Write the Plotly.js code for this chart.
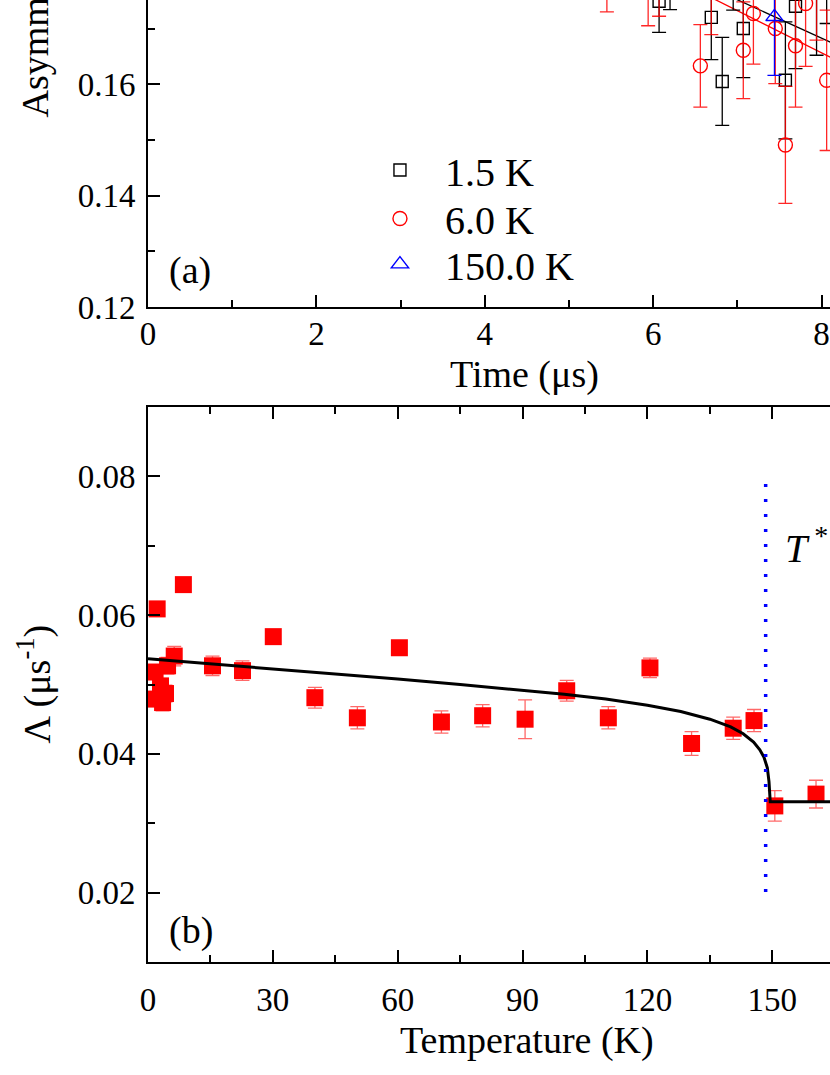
<!DOCTYPE html>
<html>
<head>
<meta charset="utf-8">
<script src="https://cdn.plot.ly/plotly-3.0.1.min.js"></script>
<style>
html, body { margin: 0; padding: 0; overflow: hidden; background: #fff; }
#chart { position: absolute; left: 0; top: -300px; width: 1040px; height: 1375px; }
</style>
</head>
<body>
<div id="chart"></div>
<script>
var FONT = "'Liberation Serif', 'Times New Roman', serif";

// panel (a): asymmetry vs time
var t15 = [6.07, 6.20, 6.69, 6.82, 6.95, 7.07, 7.57, 7.69, 7.94, 8.06];
var a15 = [0.1749, 0.1810, 0.1720, 0.1605, 0.1800, 0.1700, 0.1607, 0.1740, 0.1770, 0.1790];
var e15 = [0.0056, 0.0076, 0.0076, 0.0079, 0.0067, 0.0088, 0.0105, 0.0112, 0.0118, 0.0081];

var t60 = [5.45, 5.94, 6.07, 6.56, 6.69, 7.07, 7.19, 7.45, 7.57, 7.69, 7.81, 7.94, 8.06];
var a60 = [0.1830, 0.1790, 0.1800, 0.1633, 0.1770, 0.1661, 0.1727, 0.1700, 0.1491, 0.1669, 0.1745, 0.1790, 0.1607];
var e60 = [0.0100, 0.0085, 0.0078, 0.0074, 0.0081, 0.0087, 0.0091, 0.0099, 0.0105, 0.0110, 0.0113, 0.0111, 0.0126];

var t150 = [7.44];
var a150 = [0.1721];
var e150 = [0.0105];

var fit15T = [6.5, 7.01, 8.1, 10];
var fit15A = [0.1786, 0.1751, 0.1676, 0.1545];
var fit60T = [6.3, 6.75, 8.1, 10];
var fit60A = [0.1785, 0.1751, 0.1649, 0.1505];

// panel (b): relaxation rate vs temperature
var temps = [1.7, 1.8, 2.2, 3.0, 3.5, 4.2, 4.7, 6.3, 8.5, 15.5, 22.7, 30.1, 40.1, 50.3, 60.4,
             70.5, 80.4, 90.6, 100.6, 110.6, 120.6, 130.6, 140.6, 145.6, 150.6, 160.5];
var lambda = [0.0518, 0.0479, 0.0609, 0.0498, 0.0474, 0.0487, 0.0527, 0.0541, 0.0644, 0.0527, 0.0520, 0.0569, 0.0481, 0.0452, 0.0553,
              0.0446, 0.0455, 0.0450, 0.0491, 0.0452, 0.0524, 0.0415, 0.0437, 0.0448, 0.0325, 0.0342];
var lambdaErr = [0.0010, 0.0010, 0.0008, 0.0010, 0.0012, 0.0012, 0.0012, 0.0014, 0.0008, 0.0014, 0.0014, 0.0010, 0.0015, 0.0016, 0.0008,
                 0.0016, 0.0016, 0.0028, 0.0015, 0.0016, 0.0014, 0.0017, 0.0016, 0.0016, 0.0022, 0.0020];

var fitT = [0, 15, 30, 45, 60, 75, 90, 100, 110, 120, 128, 135, 140, 143, 145.5, 147, 148, 148.8, 149.2, 149.4, 149.5, 210];
var fitL = [0.0537, 0.0530, 0.0522, 0.0515, 0.0508, 0.0500, 0.0492, 0.0486, 0.0479, 0.0470, 0.0461, 0.0450, 0.0439, 0.0429,
            0.0417, 0.0406, 0.0395, 0.0380, 0.0360, 0.0340, 0.0331, 0.0331];

var tStar = 148.4;

function errs(arr, color) {
  return {type: 'data', array: arr, visible: true, color: color, thickness: 1.3, width: 7};
}

var traces = [
  {x: fit15T, y: fit15A, mode: 'lines', line: {color: 'black', width: 1.3}, showlegend: false, xaxis: 'x', yaxis: 'y'},
  {x: fit60T, y: fit60A, mode: 'lines', line: {color: 'red', width: 1.3}, showlegend: false, xaxis: 'x', yaxis: 'y'},
  {x: t15, y: a15, error_y: errs(e15, 'black'), mode: 'markers', name: '1.5 K', legend: 'legend',
   marker: {symbol: 'square-open', size: 12, color: 'black', line: {width: 1.4, color: 'black'}}, xaxis: 'x', yaxis: 'y'},
  {x: t60, y: a60, error_y: errs(e60, 'rgba(255,0,0,0.85)'), mode: 'markers', name: '6.0 K', legend: 'legend2',
   marker: {symbol: 'circle-open', size: 14, color: 'red', line: {width: 1.4, color: 'red'}}, xaxis: 'x', yaxis: 'y'},
  {x: t150, y: a150, error_y: errs(e150, 'blue'), mode: 'markers', name: '150.0 K', legend: 'legend3',
   marker: {symbol: 'triangle-up-open', size: 15, color: 'blue', line: {width: 1.4, color: 'blue'}}, xaxis: 'x', yaxis: 'y'},
  {x: temps, y: lambda, error_y: errs(lambdaErr, 'rgba(255,40,40,0.7)'), mode: 'markers', showlegend: false,
   marker: {symbol: 'square', size: 17, color: 'red'}, xaxis: 'x2', yaxis: 'y2'},
  {x: fitT, y: fitL, mode: 'lines', line: {color: 'black', width: 3}, showlegend: false, xaxis: 'x2', yaxis: 'y2'}
];

function axis(extra) {
  var base = {
    showline: true, linecolor: 'black', linewidth: 2, mirror: 'ticks',
    ticks: 'inside', ticklen: 12, tickwidth: 2, tickcolor: 'black',
    showgrid: false, zeroline: false, ticklabelstandoff: 4,
    tickfont: {family: FONT, size: 33, color: 'black'}
  };
  for (var k in extra) base[k] = extra[k];
  return base;
}

function minor(step) {
  return {ticks: 'inside', ticklen: 7, tickwidth: 2, tickcolor: 'black', dtick: step, showgrid: false};
}

var titleFont = {family: FONT, size: 38, color: 'black'};

function legendAt(y) {
  return {x: 0.2458, y: y, xanchor: 'left', yanchor: 'middle', bgcolor: 'rgba(0,0,0,0)',
          font: {family: FONT, size: 40, color: 'black'}, itemwidth: 80};
}

var layout = {
  width: 1040, height: 1375,
  margin: {l: 148, r: 50, t: 50, b: 113},
  paper_bgcolor: 'white', plot_bgcolor: 'white',
  font: {family: FONT, color: 'black'},
  xaxis: axis({domain: [0, 1], range: [0, 10], dtick: 2, tick0: 0, anchor: 'y', ticklabelstandoff: -4, minor: minor(1)}),
  yaxis: axis({domain: [0.5404, 1], range: [0.12, 0.22], dtick: 0.02, tick0: 0, tickformat: '.2f', anchor: 'x', minor: minor(0.01)}),
  xaxis2: axis({domain: [0, 1], range: [0, 202.3], dtick: 30, tick0: 0, anchor: 'y2', ticklabelstandoff: 7, minor: minor(15)}),
  yaxis2: axis({domain: [0, 0.4579], range: [0.01, 0.09], dtick: 0.02, tick0: 0, tickformat: '.2f', anchor: 'x2', minor: minor(0.01)}),
  showlegend: true,
  legend: legendAt(0.6535),
  legend2: legendAt(0.6135),
  legend3: legendAt(0.5758),
  shapes: [
    {type: 'line', xref: 'x2', yref: 'y2', x0: tStar, x1: tStar, y0: 0.0201, y1: 0.0789,
     line: {color: 'blue', width: 3.5, dash: '3px,12px'}}
  ],
  annotations: [
    {text: 'Asymmetry', xref: 'paper', x: 0, xshift: -113, xanchor: 'center', yref: 'y domain', y: 0.5, yanchor: 'middle',
     textangle: -90, showarrow: false, font: titleFont},
    {text: 'Time (μs)', xref: 'paper', x: 0.4477, xanchor: 'center', yref: 'y domain', y: 0, yshift: -67, yanchor: 'middle',
     showarrow: false, font: titleFont},
    {text: 'Λ (μs<sup>-1</sup>)', xref: 'paper', x: 0, xshift: -113, xanchor: 'center', yref: 'y2 domain', y: 0.5, yanchor: 'middle',
     textangle: -90, showarrow: false, font: titleFont},
    {text: 'Temperature (K)', xref: 'paper', x: 0.450, xanchor: 'center', yref: 'y2 domain', y: 0, yshift: -78, yanchor: 'middle',
     showarrow: false, font: titleFont},
    {text: '(a)', xref: 'x domain', x: 0, xshift: 19, xanchor: 'left', yref: 'y domain', y: 0, yshift: 37, yanchor: 'middle',
     showarrow: false, font: {family: FONT, size: 38, color: 'black'}},
    {text: '(b)', xref: 'x2 domain', x: 0, xshift: 19, xanchor: 'left', yref: 'y2 domain', y: 0, yshift: 32, yanchor: 'middle',
     showarrow: false, font: {family: FONT, size: 38, color: 'black'}},
    {text: '<i>T</i><sup> *</sup>', xref: 'x2', x: tStar, xshift: 17, xanchor: 'left', yref: 'y2', y: 0.0700, yanchor: 'middle',
     showarrow: false, font: {family: FONT, size: 40, color: 'black'}}
  ]
};

Plotly.newPlot('chart', traces, layout, {displayModeBar: false, staticPlot: true});
</script>
</body>
</html>
